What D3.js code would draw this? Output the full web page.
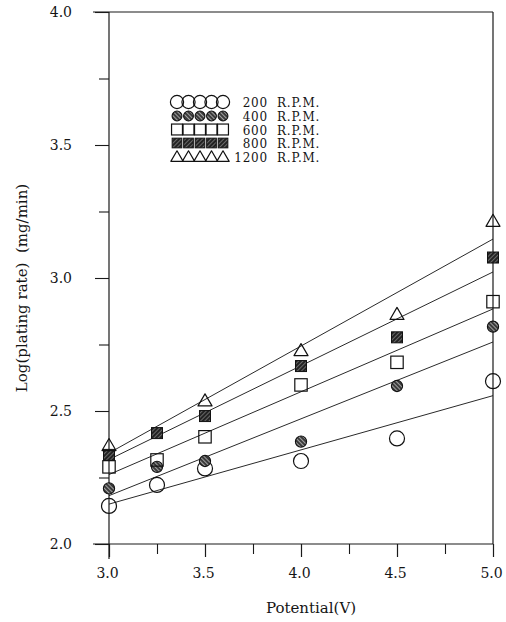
<!DOCTYPE html>
<html>
<head>
<meta charset="utf-8">
<script src="https://cdn.jsdelivr.net/npm/d3@7"></script>
<style>
  html, body { margin: 0; padding: 0; background: #fff; }
  svg { display: block; }
</style>
</head>
<body>
<svg id="chart" width="506" height="622"></svg>
<script>
// ---- data ----
const potentials = [3.0, 3.25, 3.5, 4.0, 4.5, 5.0];
const rpmLabels = ["200", "400", "600", "800", "1200"];
const rate200  = [2.143, 2.222, 2.284, 2.312, 2.397, 2.612];
const rate400  = [2.209, 2.290, 2.312, 2.385, 2.594, 2.817];
const rate600  = [2.290, 2.316, 2.403, 2.598, 2.683, 2.911];
const rate800  = [2.335, 2.417, 2.481, 2.669, 2.777, 3.077];
const rate1200 = [2.372, null,  2.540, 2.729, 2.865, 3.215];
const xTickValues = [3.0, 3.5, 4.0, 4.5, 5.0];
const xMinorTicks = [3.25, 3.75, 4.25, 4.75];
const yTickValues = [2.0, 2.5, 3.0, 3.5, 4.0];
const yMinorTicks = [2.25, 2.75, 3.25, 3.75];

const seriesValues = [rate200, rate400, rate600, rate800, rate1200];
const markerKinds = ["circle", "hatchCircle", "square", "hatchSquare", "triangle"];
const serif = "DejaVu Serif";

const svg = d3.select("#chart");
const x = d3.scaleLinear().domain([3, 5]).range([109, 493]);
const y = d3.scaleLinear().domain([2, 4]).range([544, 12]);

// patterns
const defs = svg.append("defs");
const p1 = defs.append("pattern").attr("id", "hatchA").attr("patternUnits", "userSpaceOnUse")
  .attr("width", 3).attr("height", 3).attr("patternTransform", "rotate(45)");
p1.append("rect").attr("width", 3).attr("height", 3).attr("fill", "#3a3a3a");
p1.append("line").attr("x1", 0).attr("y1", 1.5).attr("x2", 3).attr("y2", 1.5).attr("stroke", "#bbb").attr("stroke-width", 0.8);
const p2 = defs.append("pattern").attr("id", "hatchB").attr("patternUnits", "userSpaceOnUse")
  .attr("width", 3).attr("height", 3).attr("patternTransform", "rotate(-45)");
p2.append("rect").attr("width", 3).attr("height", 3).attr("fill", "#222");
p2.append("line").attr("x1", 0).attr("y1", 1.5).attr("x2", 3).attr("y2", 1.5).attr("stroke", "#888").attr("stroke-width", 0.7);

function drawMarker(g, kind, cx, cy, scale) {
  const s = scale || 1;
  if (kind === "circle") {
    g.append("circle").attr("cx", cx).attr("cy", cy).attr("r", 7.5 * s)
      .attr("fill", "none").attr("stroke", "#111").attr("stroke-width", 1.2);
  } else if (kind === "hatchCircle") {
    g.append("circle").attr("cx", cx).attr("cy", cy).attr("r", 5.6 * s)
      .attr("fill", "url(#hatchA)").attr("stroke", "#111").attr("stroke-width", 1.1);
  } else if (kind === "square") {
    const h = 6.2 * s;
    g.append("rect").attr("x", cx - h).attr("y", cy - h).attr("width", 2 * h).attr("height", 2 * h)
      .attr("fill", "none").attr("stroke", "#111").attr("stroke-width", 1.2);
  } else if (kind === "hatchSquare") {
    const h = 5.5 * s;
    g.append("rect").attr("x", cx - h).attr("y", cy - h).attr("width", 2 * h).attr("height", 2 * h)
      .attr("fill", "url(#hatchB)").attr("stroke", "#111").attr("stroke-width", 1);
  } else if (kind === "triangle") {
    const w = 7 * s, hh = 6.5 * s;
    g.append("path").attr("d", `M${cx},${cy - hh}L${cx + w},${cy + hh * 0.85}L${cx - w},${cy + hh * 0.85}Z`)
      .attr("fill", "none").attr("stroke", "#111").attr("stroke-width", 1.2).attr("stroke-linejoin", "round");
  }
}

// least-squares fit lines
const fitG = svg.append("g");
seriesValues.forEach(vals => {
  const pts = potentials.map((p, i) => [p, vals[i]]).filter(d => d[1] != null);
  const mx = d3.mean(pts, d => d[0]), my = d3.mean(pts, d => d[1]);
  const slope = d3.sum(pts, d => (d[0] - mx) * (d[1] - my)) / d3.sum(pts, d => (d[0] - mx) ** 2);
  const f = v => my + slope * (v - mx);
  fitG.append("line")
    .attr("x1", x(3)).attr("y1", y(f(3)))
    .attr("x2", x(5)).attr("y2", y(f(5)))
    .attr("stroke", "#2a2a2a").attr("stroke-width", 1);
});

// frame and axes
const frame = svg.append("g").attr("stroke", "#1a1a1a").attr("stroke-width", 1.2);
frame.append("line").attr("x1", 93).attr("x2", x(5)).attr("y1", y(4)).attr("y2", y(4));
frame.append("line").attr("x1", 93).attr("x2", x(5)).attr("y1", y(2)).attr("y2", y(2));
frame.append("line").attr("x1", x(5)).attr("x2", x(5)).attr("y1", y(4)).attr("y2", y(2));
frame.append("line").attr("x1", x(3)).attr("x2", x(3)).attr("y1", y(4)).attr("y2", y(2) + 15);

const xAxis = svg.append("g").attr("transform", `translate(0,${y(2)})`)
  .call(d3.axisBottom(x).tickValues(xTickValues).tickSize(13).tickPadding(11).tickFormat(d3.format(".1f")));
xAxis.attr("font-family", serif);
xAxis.select(".domain").remove();
xAxis.selectAll("line").attr("stroke", "#1a1a1a").attr("stroke-width", 1.2);
xAxis.selectAll("text").attr("font-size", 14).attr("dx", -2)
  .attr("font-family", serif).attr("fill", "#151515");
const xMinor = svg.append("g").attr("transform", `translate(0,${y(2)})`)
  .call(d3.axisBottom(x).tickValues(xMinorTicks).tickSize(10).tickFormat(""));
xMinor.select(".domain").remove();
xMinor.selectAll("line").attr("stroke", "#1a1a1a").attr("stroke-width", 1.1);

const yAxis = svg.append("g").attr("transform", `translate(${x(3)},0)`)
  .call(d3.axisLeft(y).tickValues(yTickValues).tickSize(14).tickPadding(23).tickFormat(d3.format(".1f")));
yAxis.attr("font-family", serif);
yAxis.select(".domain").remove();
yAxis.selectAll("line").attr("stroke", "#1a1a1a").attr("stroke-width", 1.1);
yAxis.selectAll("text").attr("font-size", 14)
  .attr("font-family", serif).attr("fill", "#151515");
const yMinor = svg.append("g").attr("transform", `translate(${x(3)},0)`)
  .call(d3.axisLeft(y).tickValues(yMinorTicks).tickSize(10).tickFormat(""));
yMinor.select(".domain").remove();
yMinor.selectAll("line").attr("stroke", "#1a1a1a").attr("stroke-width", 1.1);

// data markers
const markG = svg.append("g");
seriesValues.forEach((vals, si) => {
  potentials.forEach((p, i) => {
    if (vals[i] == null) return;
    drawMarker(markG, markerKinds[si], x(p), y(vals[i]));
  });
});

// legend
const legG = svg.append("g").attr("font-family", serif);
const legendRowY = [102, 116, 129.5, 143, 156.5];
rpmLabels.forEach((lab, i) => {
  const ry = legendRowY[i];
  for (let k = 0; k < 5; k++) {
    drawMarker(legG, markerKinds[i], 177 + k * 11.5, ry, 0.88);
  }
  legG.append("text").attr("x", 268).attr("y", ry + 5).attr("text-anchor", "end")
    .attr("font-family", serif).attr("font-size", 12).attr("letter-spacing", "0.8px").attr("fill", "#151515").text(lab);
  legG.append("text").attr("x", 277).attr("y", ry + 5)
    .attr("font-family", serif).attr("font-size", 12).attr("letter-spacing", "0.8px").attr("fill", "#151515").text("R.P.M.");
});

// axis titles
svg.append("text").attr("x", 311).attr("y", 613).attr("text-anchor", "middle")
  .attr("font-family", serif).attr("font-size", 15).attr("fill", "#151515").text("Potential(V)");
svg.append("text").attr("transform", "translate(27,288) rotate(-90)").attr("text-anchor", "middle")
  .attr("font-family", serif).attr("font-size", 15).attr("fill", "#151515").style("white-space", "pre")
  .text("Log(plating rate)  (mg/min)");
</script>
</body>
</html>
